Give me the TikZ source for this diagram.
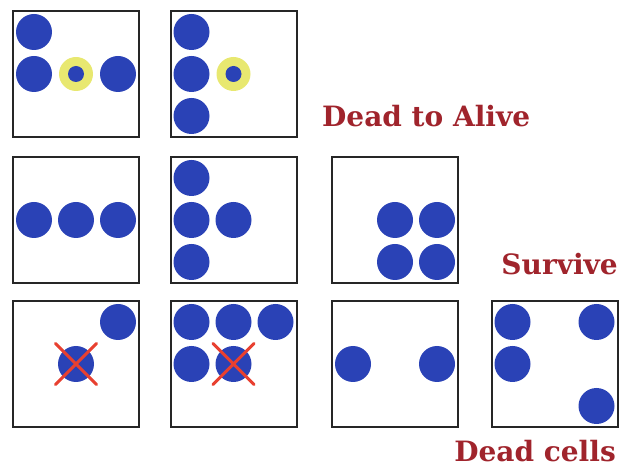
\documentclass[tikz,border=0pt]{standalone}
\usepackage{fontspec}
\setmainfont{DejaVu Serif}
\usetikzlibrary{shapes.misc}
\definecolor{CellBlue}{RGB}{42,66,182}
\definecolor{RingYellow}{RGB}{232,232,112}
\definecolor{KillRed}{RGB}{232,64,48}
\definecolor{LabelRed}{RGB}{160,36,44}

\begin{document}
\begin{tikzpicture}[x=1pt, y=-1pt,
        box/.style={rectangle, draw=black!85, line width=2pt, minimum size=126pt, inner sep=0pt, outer sep=0pt},
        cell/.style={circle, fill=CellBlue, minimum size=36pt, inner sep=0pt},
        born/.style={circle, fill=RingYellow, minimum size=34pt, inner sep=0pt,
            path picture={\fill[CellBlue] (path picture bounding box.center) circle (8);}},
        kill/.style={cross out, draw=KillRed, line width=3pt, line cap=round, minimum size=38pt, inner sep=0pt},
        rule/.style={font=\bfseries\fontsize{28}{32}\selectfont, text=LabelRed, inner sep=0pt}]
    \useasboundingbox (0,0) rectangle (622,470);
    % dead to alive
    \node[box] (a1) at (76,74) {};
    \node[box] (a2) at (233.5,74) {};
    \foreach \i/\j in {0/0, 0/1, 2/1}
        \node[cell] (a1-\i\j) at ([shift={(21+42*\i,21+42*\j)}]a1.north west) {};
    \node[born] (a1-11) at ([shift={(63,63)}]a1.north west) {};
    \foreach \i/\j in {0/0, 0/1, 0/2}
        \node[cell] (a2-\i\j) at ([shift={(21+42*\i,21+42*\j)}]a2.north west) {};
    \node[born] (a2-11) at ([shift={(63,63)}]a2.north west) {};
    \node[rule, anchor=base west] (alive) at (322,127) {Dead to Alive};
    % survive
    \node[box] (s1) at (76,220) {};
    \node[box] (s2) at (233.5,220) {};
    \node[box] (s3) at (395,220) {};
    \foreach \i/\j in {0/1, 1/1, 2/1}
        \node[cell] (s1-\i\j) at ([shift={(21+42*\i,21+42*\j)}]s1.north west) {};
    \foreach \i/\j in {0/0, 0/1, 0/2, 1/1}
        \node[cell] (s2-\i\j) at ([shift={(21+42*\i,21+42*\j)}]s2.north west) {};
    \foreach \i/\j in {1/1, 2/1, 1/2, 2/2}
        \node[cell] (s3-\i\j) at ([shift={(21+42*\i,21+42*\j)}]s3.north west) {};
    \node[rule, anchor=base east] (survive) at (618,275) {Survive};
    % dead cells
    \node[box] (d1) at (76,364) {};
    \node[box] (d2) at (233.5,364) {};
    \node[box] (d3) at (395,364) {};
    \node[box] (d4) at (554.5,364) {};
    \foreach \i/\j in {2/0, 1/1}
        \node[cell] (d1-\i\j) at ([shift={(21+42*\i,21+42*\j)}]d1.north west) {};
    \foreach \i/\j in {0/0, 1/0, 2/0, 0/1, 1/1}
        \node[cell] (d2-\i\j) at ([shift={(21+42*\i,21+42*\j)}]d2.north west) {};
    \foreach \i/\j in {0/1, 2/1}
        \node[cell] (d3-\i\j) at ([shift={(21+42*\i,21+42*\j)}]d3.north west) {};
    \foreach \i/\j in {0/0, 2/0, 0/1, 2/2}
        \node[cell] (d4-\i\j) at ([shift={(21+42*\i,21+42*\j)}]d4.north west) {};
    \node[kill] (d1-x) at (d1-11) {};
    \node[kill] (d2-x) at (d2-11) {};
    \node[rule, anchor=base east] (dead) at (616,462) {Dead cells};
\end{tikzpicture}
\end{document}
